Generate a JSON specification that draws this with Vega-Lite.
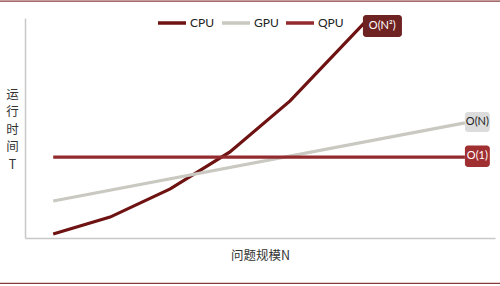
{
  "$schema": "https://vega.github.io/schema/vega-lite/v6.json",
  "width": 470,
  "height": 220,
  "padding": {"left": 25, "top": 18, "right": 5, "bottom": 48},
  "autosize": {"type": "none"},
  "background": "white",
  "config": {
    "view": {"stroke": null},
    "font": "Lato"
  },
  "datasets": {
    "lines": [
      {"series": "CPU", "N": 6, "T": 1.8},
      {"series": "CPU", "N": 18.1, "T": 9.5},
      {"series": "CPU", "N": 30.9, "T": 22.3},
      {"series": "CPU", "N": 43.6, "T": 39.1},
      {"series": "CPU", "N": 56.4, "T": 62.3},
      {"series": "CPU", "N": 72.5, "T": 98.5},
      {"series": "GPU", "N": 6, "T": 16.8},
      {"series": "GPU", "N": 93.6, "T": 52.3},
      {"series": "QPU", "N": 6, "T": 36.8},
      {"series": "QPU", "N": 93.6, "T": 36.8}
    ],
    "boxes": [
      {"label": "O(N²)", "x1": 71.9, "x2": 80.2, "y1": 91.4, "y2": 101.4, "cx": 76.0, "cy": 96.4},
      {"label": "O(N)", "x1": 93.6, "x2": 98.9, "y1": 48.2, "y2": 57.3, "cx": 96.25, "cy": 52.8},
      {"label": "O(1)", "x1": 93.6, "x2": 98.9, "y1": 32.3, "y2": 42.0, "cx": 96.25, "cy": 37.1}
    ],
    "borders": [
      {"pos": "top", "xa": -5.32, "xb": 101.06, "y": 107.7},
      {"pos": "bottom", "xa": -5.32, "xb": 101.06, "y": -20.6}
    ]
  },
  "layer": [
    {
      "data": {"name": "borders"},
      "mark": {"type": "rule", "stroke": "#8a3a3a", "strokeWidth": 1.2},
      "encoding": {
        "x": {"field": "xa", "type": "quantitative", "scale": {"domain": [0, 100]}},
        "x2": {"field": "xb"},
        "y": {"field": "y", "type": "quantitative", "scale": {"domain": [0, 100]}}
      }
    },
    {
      "data": {"name": "lines"},
      "mark": {"type": "line", "strokeWidth": 3.2, "strokeCap": "butt"},
      "encoding": {
        "x": {
          "field": "N", "type": "quantitative",
          "scale": {"domain": [0, 100]},
          "axis": {"title": "问题规模N", "titleFont": "Noto Sans CJK SC", "titleFontWeight": "normal", "titleFontSize": 12.5, "titleColor": "#333", "titleY": 11, "titleX": 235, "labels": false, "ticks": false, "grid": false, "domainColor": "#c8c8c8", "domainWidth": 1.5}
        },
        "y": {
          "field": "T", "type": "quantitative",
          "scale": {"domain": [0, 100]},
          "axis": {"title": ["运", "行", "时", "间", "T"], "titleFont": "Noto Sans CJK SC", "titleFontWeight": "normal", "titleFontSize": 12.5, "titleColor": "#333", "titleAngle": 0, "titleLineHeight": 17.5, "titleX": -13, "titleY": 70, "titleBaseline": "top", "titleAlign": "center", "labels": false, "ticks": false, "grid": false, "domainColor": "#c8c8c8", "domainWidth": 1.5}
        },
        "stroke": {
          "field": "series", "type": "nominal",
          "scale": {"domain": ["CPU", "GPU", "QPU"], "range": ["#6e1212", "#c9c9c1", "#922a2e"]},
          "legend": {
            "title": null, "orient": "none", "direction": "horizontal",
            "legendX": 131, "legendY": -11,
            "symbolType": "stroke", "symbolSize": 784, "symbolStrokeWidth": 3.5,
            "labelFont": "Lato", "labelFontSize": 12, "labelColor": "#222",
            "labelOffset": 2, "columnPadding": 0
          }
        }
      }
    },
    {
      "data": {"name": "boxes"},
      "mark": {"type": "rect", "cornerRadius": 3},
      "encoding": {
        "x": {"field": "x1", "type": "quantitative"},
        "x2": {"field": "x2"},
        "y": {"field": "y1", "type": "quantitative"},
        "y2": {"field": "y2"},
        "fill": {
          "field": "label", "type": "nominal",
          "scale": {"domain": ["O(N²)", "O(N)", "O(1)"], "range": ["#6f2222", "#dcdcdc", "#a02f31"]},
          "legend": null
        }
      }
    },
    {
      "data": {"name": "boxes"},
      "mark": {"type": "text", "font": "Lato", "fontSize": 11, "align": "center", "baseline": "middle"},
      "encoding": {
        "x": {"field": "cx", "type": "quantitative"},
        "y": {"field": "cy", "type": "quantitative"},
        "text": {"field": "label"},
        "color": {"condition": {"test": "datum.label === 'O(N)'", "value": "#222"}, "value": "white"}
      }
    }
  ]
}
